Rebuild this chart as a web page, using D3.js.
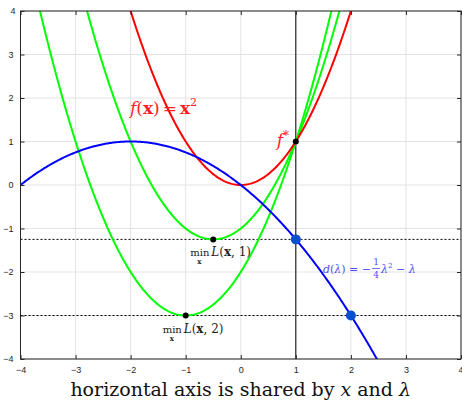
<!DOCTYPE html>
<html>
<head>
<meta charset="utf-8">
<script src="https://cdn.jsdelivr.net/npm/d3@7"></script>
<style>
  body { margin: 0; background: #fff; }
  svg { display: block; }
  .tick text { font-family: "Liberation Sans", Arial, sans-serif; font-size: 9px; fill: #262626; }
</style>
</head>
<body>
<div id="chart"></div>
<script>
// axis ticks
const xTicks = [-4, -3, -2, -1, 0, 1, 2, 3, 4];
const yTicks = [-4, -3, -2, -1, 0, 1, 2, 3, 4];
// primal f(x) = a*x^2 + b*x + c, lagrangian L(x, lambda) = f(x) + lambda*(x - b)
const fCoef = [1, 0, 0];
const constraintB = 1;            // constraint point x = 1
const lambdas = [1, 2];           // lagrangian multipliers drawn in green
const optimum = [1, 1];           // f* point
const dualDots = [1, 2];          // lambdas marked on dual curve

const serif = "'DejaVu Serif', 'Liberation Serif', serif";

const width = 462, height = 402;
const margin = { top: 11, right: 1, bottom: 43, left: 20.5 };

const svg = d3.select("#chart").append("svg")
    .attr("width", width)
    .attr("height", height);

const x = d3.scaleLinear().domain([-4, 4]).range([margin.left, width - margin.right]);
const y = d3.scaleLinear().domain([-4, 4]).range([height - margin.bottom, margin.top]);

const f = v => fCoef[0] * v * v + fCoef[1] * v + fCoef[2];
const L = (v, lam) => f(v) + lam * (v - constraintB);
const d = lam => -lam * lam / 4 - lam;

// grid
svg.append("g").selectAll("line").data(xTicks).join("line")
    .attr("x1", d => x(d)).attr("x2", d => x(d))
    .attr("y1", y(-4)).attr("y2", y(4))
    .attr("stroke", "#e3e3e3").attr("stroke-width", 1);
svg.append("g").selectAll("line").data(yTicks).join("line")
    .attr("y1", d => y(d)).attr("y2", d => y(d))
    .attr("x1", x(-4)).attr("x2", x(4))
    .attr("stroke", "#e3e3e3").attr("stroke-width", 1);

// clip for curves
svg.append("clipPath").attr("id", "clip")
    .append("rect")
    .attr("x", x(-4)).attr("y", y(4))
    .attr("width", x(4) - x(-4)).attr("height", y(-4) - y(4));

const plot = svg.append("g").attr("clip-path", "url(#clip)");

const xs = d3.range(-4, 4.0001, 0.02);
const line = d3.line().x(p => x(p[0])).y(p => y(p[1]));

// dotted horizontal lines at dual values
plot.selectAll(".hline").data(lambdas).join("line")
    .attr("class", "hline")
    .attr("x1", x(-4)).attr("x2", x(4))
    .attr("y1", lam => y(d(lam))).attr("y2", lam => y(d(lam)))
    .attr("stroke", "#000").attr("stroke-width", 1)
    .attr("stroke-dasharray", "2,2");

// vertical line at x = 1
plot.append("line")
    .attr("x1", x(constraintB)).attr("x2", x(constraintB))
    .attr("y1", y(-4)).attr("y2", y(4))
    .attr("stroke", "#000").attr("stroke-width", 1);

// green lagrangians
lambdas.forEach(lam => {
    plot.append("path")
        .datum(xs.map(v => [v, L(v, lam)]))
        .attr("d", line)
        .attr("fill", "none").attr("stroke", "#00ff00").attr("stroke-width", 2);
});

// red primal
plot.append("path")
    .datum(xs.map(v => [v, f(v)]))
    .attr("d", line)
    .attr("fill", "none").attr("stroke", "#ff0000").attr("stroke-width", 2);

// blue dual
plot.append("path")
    .datum(xs.map(v => [v, d(v)]))
    .attr("d", line)
    .attr("fill", "none").attr("stroke", "#0000ff").attr("stroke-width", 2);

// black dots
const blackDots = [optimum].concat(lambdas.map(lam => [-lam / 2, d(lam)]));
plot.selectAll(".bdot").data(blackDots).join("circle")
    .attr("class", "bdot")
    .attr("cx", p => x(p[0])).attr("cy", p => y(p[1]))
    .attr("r", 3).attr("fill", "#000");

// blue dots on dual
plot.selectAll(".ddot").data(dualDots).join("circle")
    .attr("class", "ddot")
    .attr("cx", lam => x(lam)).attr("cy", lam => y(d(lam)))
    .attr("r", 5).attr("fill", "#0a4fd0");

// axes box
svg.append("rect")
    .attr("x", x(-4)).attr("y", y(4))
    .attr("width", x(4) - x(-4)).attr("height", y(-4) - y(4))
    .attr("fill", "none").attr("stroke", "#262626").attr("stroke-width", 1);

svg.append("g")
    .attr("transform", `translate(0,${y(-4)})`)
    .call(d3.axisBottom(x).tickValues(xTicks).tickSize(-4).tickPadding(8));
svg.append("g")
    .attr("transform", `translate(${x(-4)},0)`)
    .call(d3.axisLeft(y).tickValues(yTicks).tickSize(-4).tickPadding(7));
svg.append("g")
    .attr("transform", `translate(0,${y(4)})`)
    .call(d3.axisTop(x).tickValues(xTicks).tickSize(-4).tickFormat(""));
svg.append("g")
    .attr("transform", `translate(${x(4)},0)`)
    .call(d3.axisRight(y).tickValues(yTicks).tickSize(-4).tickFormat(""));
svg.selectAll(".domain").remove();
svg.selectAll(".tick line").attr("stroke", "#262626");
// last x tick label sits on the edge, as in the original
svg.selectAll(".tick text").filter(v => v === 4).attr("text-anchor", "end").attr("dx", 2);

// labels
const fl = svg.append("text").style("font-family", serif)
    .attr("x", 130).attr("y", 114).attr("fill", "#ff2020").attr("font-size", 17);
fl.append("tspan").attr("font-style", "italic").text("f");
fl.append("tspan").text("(");
fl.append("tspan").attr("font-weight", "bold").text("x");
fl.append("tspan").text(")");
fl.append("tspan").attr("dx", 3).text("=");
fl.append("tspan").attr("dx", 3).attr("font-weight", "bold").text("x");
fl.append("tspan").attr("font-size", 11).attr("dy", -8).text("2");

const fs = svg.append("text").style("font-family", serif)
    .attr("x", x(optimum[0]) - 19).attr("y", y(optimum[1]) + 4)
    .attr("fill", "#ff2020").attr("font-size", 17);
fs.append("tspan").attr("font-style", "italic").text("f");
fs.append("tspan").attr("font-size", 12).attr("dy", -6).text("*");

// min L labels
lambdas.forEach(lam => {
    const px = x(-lam / 2) - 23, py = y(d(lam)) + 17;
    const g = svg.append("g").style("font-family", serif).attr("fill", "#222");
    g.append("text").attr("x", px).attr("y", py).attr("font-size", 10).text("min");
    g.append("text").attr("x", px + 7).attr("y", py + 8).attr("font-size", 7)
        .attr("font-weight", "bold").text("x");
    const t = g.append("text").attr("x", px + 21).attr("y", py).attr("font-size", 12);
    t.append("tspan").attr("font-style", "italic").text("L");
    t.append("tspan").text("(");
    t.append("tspan").attr("font-weight", "bold").text("x");
    t.append("tspan").text(", " + lam + ")");
});

// dual label
const dg = svg.append("g").style("font-family", serif).attr("fill", "#4d4dff");
const dt = dg.append("text").attr("x", 323).attr("y", 273).attr("font-size", 11);
dt.append("tspan").attr("font-style", "italic").text("d");
dt.append("tspan").text("(");
dt.append("tspan").attr("font-style", "italic").text("λ");
dt.append("tspan").text(") = −");
const fx = 323 + dt.node().getComputedTextLength() + 5;
dg.append("text").attr("x", fx).attr("y", 265).attr("font-size", 9).attr("text-anchor", "middle").text("1");
dg.append("line").attr("x1", fx - 4).attr("x2", fx + 4).attr("y1", 268.5).attr("y2", 268.5)
    .attr("stroke", "#4d4dff").attr("stroke-width", 0.8);
dg.append("text").attr("x", fx).attr("y", 278).attr("font-size", 9).attr("text-anchor", "middle").text("4");
const dt2 = dg.append("text").attr("x", fx + 5).attr("y", 273).attr("font-size", 11);
dt2.append("tspan").attr("font-style", "italic").text("λ");
dt2.append("tspan").attr("font-size", 7).attr("dy", -5).text("2");
dt2.append("tspan").attr("dy", 5).text(" − ");
dt2.append("tspan").attr("font-style", "italic").text("λ");

// x axis title
const xt = svg.append("text").style("font-family", serif)
    .attr("x", (x(-4) + x(4)) / 2).attr("y", 396)
    .attr("text-anchor", "middle").attr("font-size", 19).attr("fill", "#111");
xt.append("tspan").text("horizontal axis is shared by ");
xt.append("tspan").attr("font-style", "italic").text("x");
xt.append("tspan").text(" and ");
xt.append("tspan").attr("font-style", "italic").text("λ");
</script>
</body>
</html>
